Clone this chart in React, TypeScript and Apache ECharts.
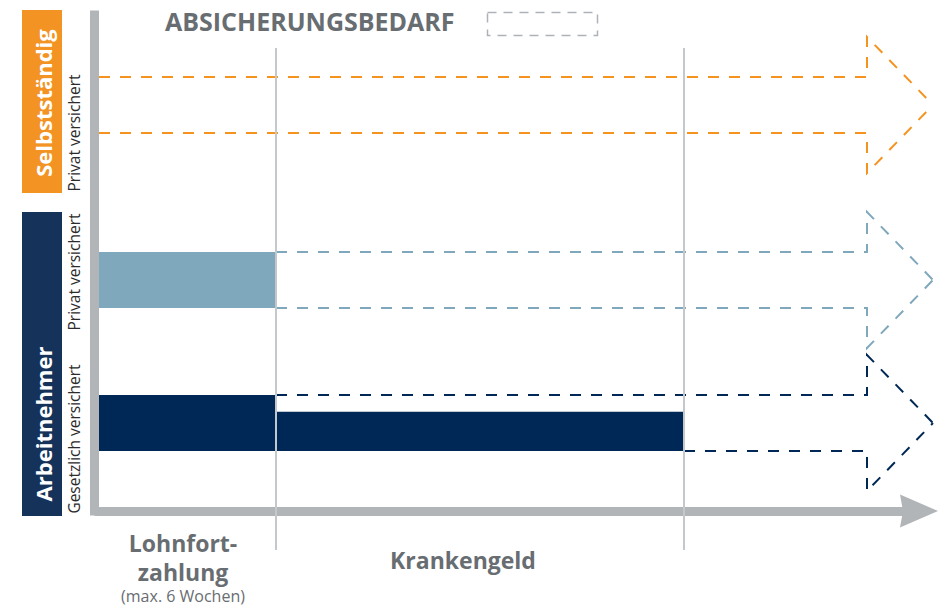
import React, { useEffect, useRef } from "react";
import * as echarts from "echarts";

// ---- data ----
const groups = ["Selbstständig", "Arbeitnehmer"];
const rowLabels = ["Privat versichert", "Privat versichert", "Gesetzlich versichert"];
const phases = ["Lohnfortzahlung", "Krankengeld"];
// phase lengths in abstract time units (not to scale in the original either)
const phaseLengths = [177, 408];
// share of the need that is covered, per row and phase (%)
const coverage = [
  [0, 0],
  [100, 0],
  [100, 70],
];
// where the need outline ends / its arrow tip (time units)
const needEnd = 768;
const needTip = 834;

// ---- layout (value units of the y axis) ----
const rowBase = [378, 203, 60];
const bandHeight = 56;
const arrowOver = 40;
const rowColors = ["#f5931f", "#80a8bd", "#002856"];
const groupColors = ["#f39324", "#15325a"];

const FONT = "'Open Sans', 'DejaVu Sans', sans-serif";
const GREY_TEXT = "#686d72";
const AXIS_GREY = "#b1b5b8";

export default function App() {
  const ref = useRef<HTMLDivElement>(null);
  useEffect(() => {
    if (!ref.current) return;
    const chart = echarts.init(ref.current, null, { renderer: "svg" });

    const cumStarts: number[] = [];
    let acc = 0;
    phaseLengths.forEach((l) => {
      cumStarts.push(acc);
      acc += l;
    });
    const phaseEnds = phaseLengths.map((l, j) => cumStarts[j] + l);

    const rowSeries = {
      type: "custom",
      z: 2,
      clip: false,
      data: rowLabels.map((_, i) => [i]),
      renderItem: (params: any, api: any) => {
        const i = api.value(0);
        const base = rowBase[i];
        const top = base + bandHeight;
        const mid = base + bandHeight / 2;
        const color = rowColors[i];
        let topStart = 0;
        let bottomStart = 0;
        coverage[i].forEach((c, j) => {
          if (c >= 100) topStart = phaseEnds[j];
          if (c > 0) bottomStart = phaseEnds[j];
        });
        const dash = { stroke: color, lineWidth: 2, lineDash: [11, 10], fill: "none" };
        const upper = [
          [topStart, top],
          [needEnd, top],
          [needEnd, top + arrowOver],
          [needTip, mid],
        ].map((p) => api.coord(p));
        const lower = [
          [bottomStart, base],
          [needEnd, base],
          [needEnd, base - arrowOver],
          [needTip, mid],
        ].map((p) => api.coord(p));
        const children: any[] = [
          { type: "polyline", shape: { points: upper }, style: dash },
          { type: "polyline", shape: { points: lower }, style: dash },
        ];
        coverage[i].forEach((c, j) => {
          if (c > 0) {
            const p0 = api.coord([cumStarts[j], base + (bandHeight * c) / 100]);
            const p1 = api.coord([phaseEnds[j], base]);
            children.push({
              type: "rect",
              shape: { x: p0[0], y: p0[1], width: p1[0] - p0[0], height: p1[1] - p0[1] },
              style: { fill: color },
            });
          }
        });
        return { type: "group", children };
      },
    };

    const dividerSeries = {
      type: "custom",
      z: 5,
      clip: false,
      data: phaseEnds.map((v) => [v]),
      renderItem: (params: any, api: any) => {
        const x = api.value(0);
        const p0 = api.coord([x, 463]);
        const p1 = api.coord([x, -39]);
        return {
          type: "line",
          shape: { x1: p0[0], y1: p0[1], x2: p1[0], y2: p1[1] },
          style: { stroke: "#c5c8cb", lineWidth: 2 },
        };
      },
    };

    const rotText = (text: string, x: number, y: number, font: string, fill: string) => ({
      type: "text",
      x,
      y,
      rotation: Math.PI / 2,
      z: 10,
      style: { text, font, fill, align: "center", verticalAlign: "middle" },
    });

    const centerText = (text: string, x: number, y: number, font: string, lineHeight: number) => ({
      type: "text",
      x,
      y,
      z: 10,
      style: { text, font, lineHeight, fill: GREY_TEXT, align: "center", verticalAlign: "middle" },
    });

    const option: any = {
      animation: false,
      grid: { left: 99, right: 23, top: 15, bottom: 94 },
      xAxis: {
        type: "value",
        min: 0,
        max: 820,
        axisLine: {
          show: true,
          onZero: false,
          lineStyle: { color: AXIS_GREY, width: 9, cap: "square" },
          symbol: ["none", "path://M16.5,0 L33,38 L16.5,35 L0,38 Z"],
          symbolSize: [33, 38],
        },
        axisTick: { show: false },
        axisLabel: { show: false },
        splitLine: { show: false },
      },
      yAxis: {
        type: "value",
        min: 0,
        max: 496,
        offset: 4.5,
        axisLine: {
          show: true,
          onZero: false,
          lineStyle: { color: AXIS_GREY, width: 9, cap: "square" },
        },
        axisTick: { show: false },
        axisLabel: { show: false },
        splitLine: { show: false },
      },
      series: [rowSeries, dividerSeries],
      graphic: [
        {
          type: "text",
          x: 165,
          y: 21,
          z: 10,
          style: {
            text: "ABSICHERUNGSBEDARF",
            font: `bold 25px ${FONT}`,
            fill: GREY_TEXT,
            align: "left",
            verticalAlign: "middle",
          },
        },
        {
          type: "rect",
          z: 10,
          shape: { x: 487.5, y: 12.5, width: 110, height: 23 },
          style: { fill: "none", stroke: "#aeb2b6", lineWidth: 1.5, lineDash: [9, 7] },
        },
        { type: "rect", z: 9, shape: { x: 22, y: 10, width: 40, height: 183 }, style: { fill: groupColors[0] } },
        { type: "rect", z: 9, shape: { x: 22, y: 212, width: 40, height: 304 }, style: { fill: groupColors[1] } },
        rotText(groups[0], 43, 103, `bold 22px ${FONT}`, "#ffffff"),
        rotText(groups[1], 43, 424, `bold 22px ${FONT}`, "#ffffff"),
        rotText(rowLabels[0], 74, 133, `15.5px ${FONT}`, "#2b2b2b"),
        rotText(rowLabels[1], 74, 272, `15.5px ${FONT}`, "#2b2b2b"),
        rotText(rowLabels[2], 74, 439, `15.5px ${FONT}`, "#2b2b2b"),
        centerText("Lohnfort-\nzahlung", 183, 557, `bold 23px ${FONT}`, 29),
        centerText("(max. 6 Wochen)", 183, 595.5, `16px ${FONT}`, 17),
        centerText(phases[1], 463, 560, `bold 23px ${FONT}`, 28),
      ],
    };
    chart.setOption(option);
    return () => chart.dispose();
  }, []);
  return (
    <div
      ref={ref}
      style={{ position: "absolute", left: 0, top: 0, width: 942, height: 605, background: "#ffffff" }}
    />
  );
}
